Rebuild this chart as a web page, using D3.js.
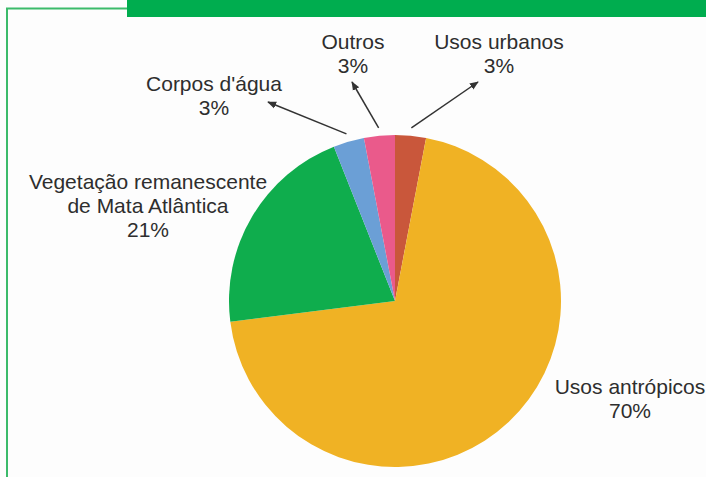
<!DOCTYPE html>
<html>
<head>
<meta charset="utf-8">
<script src="https://cdn.jsdelivr.net/npm/d3@7"></script>
<style>
  body { margin: 0; background: #fdfdfd; }
  svg { display: block; }
  text { font-family: "Liberation Sans", Arial, sans-serif; fill: #2e2e2e; }
</style>
</head>
<body>
<svg id="chart"></svg>
<script>
// dados
const categorias = ["Usos urbanos", "Usos antrópicos", "Vegetação remanescente de Mata Atlântica", "Corpos d'água", "Outros"]
const valores = [3, 70, 21, 3, 3]
const cores = ["#c9573b", "#f0b224", "#0fad4d", "#6b9fd6", "#ea5a8b"]

// rótulos (linhas de texto) e onde ficam
const rotulos = [
  { i: 0, linhas: ["Usos urbanos", "3%"], x: 499, y: 49, seta: [478, 82] },
  { i: 1, linhas: ["Usos antrópicos", "70%"], x: 630, y: 394, seta: null },
  { i: 2, linhas: ["Vegetação remanescente", "de Mata Atlântica", "21%"], x: 148, y: 189, seta: null },
  { i: 3, linhas: ["Corpos d'água", "3%"], x: 214, y: 91, seta: [268, 102] },
  { i: 4, linhas: ["Outros", "3%"], x: 353, y: 49, seta: [352, 82] }
]

const width = 706, height = 477
const cx = 395, cy = 301, raio = 166

const svg = d3.select("#chart").attr("width", width).attr("height", height)

// moldura verde
svg.append("rect").attr("x", 127).attr("y", 0).attr("width", width - 127).attr("height", 17).attr("fill", "#00ad4f")
svg.append("path").attr("d", `M7,${height} V8.5 H127`).attr("fill", "none").attr("stroke", "#3cbb6b").attr("stroke-width", 2)

svg.append("defs").append("marker")
  .attr("id", "ponta").attr("viewBox", "0 0 10 10")
  .attr("refX", 9).attr("refY", 5)
  .attr("markerWidth", 9).attr("markerHeight", 9)
  .attr("orient", "auto-start-reverse").attr("markerUnits", "userSpaceOnUse")
  .append("path").attr("d", "M0,1 L10,5 L0,9 Z").attr("fill", "#333")

const pie = d3.pie().sort(null).value(d => d)
const arcos = pie(valores)
const arc = d3.arc().innerRadius(0).outerRadius(raio)

const g = svg.append("g").attr("transform", `translate(${cx},${cy})`)
g.selectAll("path.fatia")
  .data(arcos)
  .enter()
  .append("path")
  .attr("class", "fatia")
  .attr("d", arc)
  .attr("fill", (d, i) => cores[i])

// setas
rotulos.filter(r => r.seta).forEach(r => {
  const a = arcos[r.i]
  const meio = (a.startAngle + a.endAngle) / 2
  const r0 = raio + 8
  const x0 = cx + r0 * Math.sin(meio), y0 = cy - r0 * Math.cos(meio)
  svg.append("line")
    .attr("x1", x0).attr("y1", y0)
    .attr("x2", r.seta[0]).attr("y2", r.seta[1])
    .attr("stroke", "#333").attr("stroke-width", 1.5)
    .attr("marker-end", "url(#ponta)")
})

// textos
rotulos.forEach(r => {
  const t = svg.append("text")
    .attr("x", r.x).attr("y", r.y)
    .attr("text-anchor", "middle")
    .attr("font-size", 21)
  r.linhas.forEach((l, k) => {
    t.append("tspan").attr("x", r.x).attr("dy", k === 0 ? 0 : 24).text(l)
  })
})
</script>
</body>
</html>
